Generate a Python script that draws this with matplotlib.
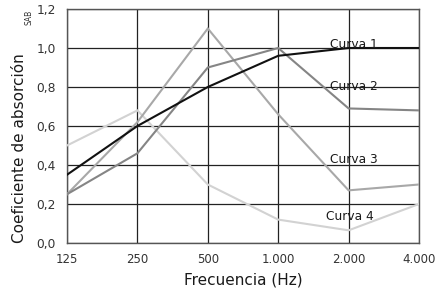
import matplotlib
matplotlib.use("Agg")
import matplotlib.pyplot as plt

freqs = ["125", "250", "500", "1.000", "2.000", "4.000"]
curva1 = [0.35, 0.60, 0.80, 0.96, 1.00, 1.00]
curva2 = [0.25, 0.46, 0.90, 1.00, 0.69, 0.68]
curva3 = [0.25, 0.62, 1.10, 0.66, 0.27, 0.30]
curva4 = [0.50, 0.68, 0.30, 0.12, 0.065, 0.20]
series = [("Curva 1", curva1, "#111111"),
          ("Curva 2", curva2, "#858585"),
          ("Curva 3", curva3, "#a8a8a8"),
          ("Curva 4", curva4, "#d2d2d2")]
label_pos = [(4.07, 1.02), (4.07, 0.80), (4.07, 0.43), (4.02, 0.135)]
yticks = [0.0, 0.2, 0.4, 0.6, 0.8, 1.0, 1.2]

W, H = 440, 291
fig = plt.figure(figsize=(W / 100, H / 100), dpi=100)
ax = fig.add_axes([67 / W, 1 - 243 / H, (419 - 67) / W, (243 - 9) / H])

x = list(range(len(freqs)))
for name, vals, col in reversed(series):
    ax.plot(x, vals, color=col, lw=1.5, solid_joinstyle="miter", zorder=3)

for (name, vals, col), (lx, ly) in zip(series, label_pos):
    ax.text(lx, ly, name, fontsize=8.8, color="#1a1a1a", ha="center", va="center", zorder=4)

ax.set_xlim(0, 5)
ax.set_ylim(0, 1.2)
ax.set_xticks(x)
ax.set_xticklabels(freqs)
ax.set_yticks(yticks)
ax.set_yticklabels([f"{v:.1f}".replace(".", ",") for v in yticks])
ax.tick_params(axis="x", length=0, labelsize=8.5, colors="#333333", pad=7)
ax.tick_params(axis="y", length=0, labelsize=8.8, colors="#333333", pad=8)
ax.grid(True, color="#222222", lw=0.9, zorder=1)
for s in ax.spines.values():
    s.set_color("#555555")
    s.set_linewidth(1.0)

fig.text(243 / W, 1 - 280 / H, "Frecuencia (Hz)", ha="center", va="center", fontsize=11, color="#1a1a1a")
fig.text(20 / W, 1 - 148 / H, "Coeficiente de absorción", rotation=90, ha="center", va="center",
         fontsize=11, color="#1a1a1a")
fig.text(29 / W, 1 - 17 / H, "SAB", rotation=90, ha="center", va="center", fontsize=5.5, color="#333333")

fig.savefig("out.png", dpi=100)
